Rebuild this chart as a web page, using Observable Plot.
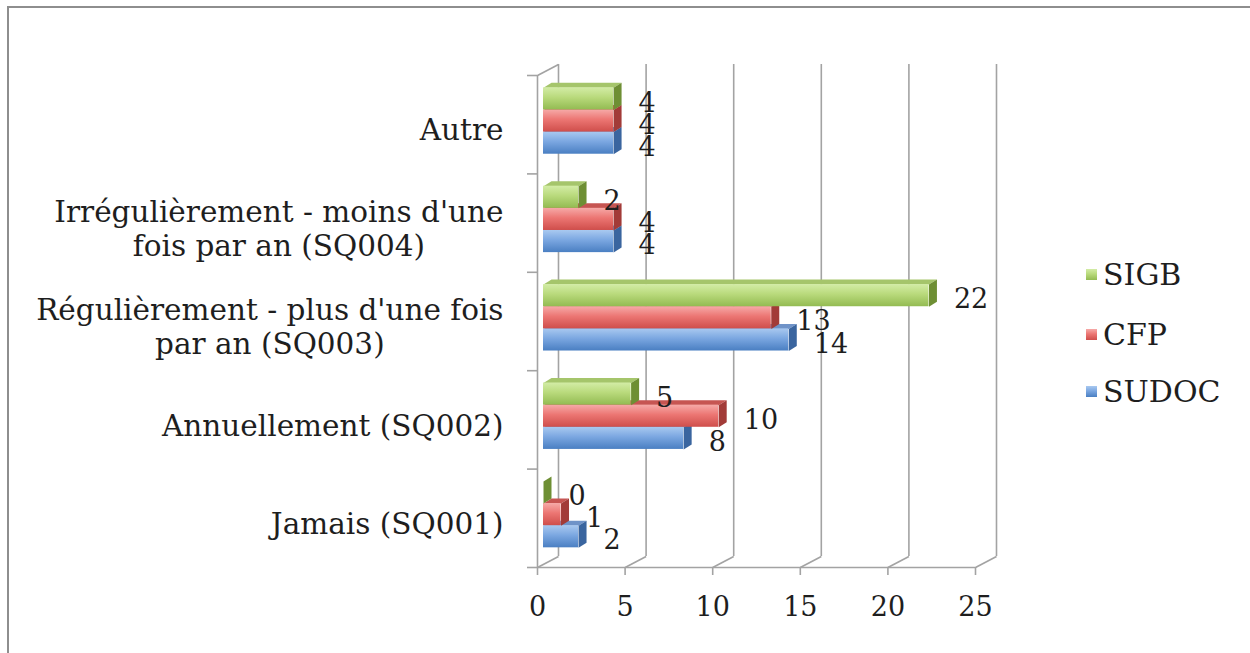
<!DOCTYPE html>
<html><head><meta charset="utf-8">
<script src="https://cdn.jsdelivr.net/npm/d3@7"></script>
<script src="https://cdn.jsdelivr.net/npm/@observablehq/plot@0.6"></script>
<style>
body{margin:0;background:#fff;}
#wrap{position:relative;width:1250px;height:653px;overflow:hidden;background:#fff;}
#frame{position:absolute;left:7px;top:6px;width:1300px;height:700px;border-left:2px solid #8e8e8e;border-top:2px solid #8e8e8e;}
#chart{position:absolute;left:0;top:0;}
.leg{position:absolute;left:1086px;height:34px;display:flex;align-items:center;font-family:"DejaVu Serif";font-size:30px;color:#1e1e1e;}
.leg .sw{width:11px;height:11px;margin-right:6px;}
</style></head>
<body>
<svg width="0" height="0" style="position:absolute">
<defs>
<linearGradient id="g-SIGB" x1="0" y1="0" x2="0" y2="1"><stop offset="0" stop-color="#d3eca6"/><stop offset="0.45" stop-color="#b9da7c"/><stop offset="1" stop-color="#93bb52"/></linearGradient>
<linearGradient id="g-CFP" x1="0" y1="0" x2="0" y2="1"><stop offset="0" stop-color="#f6aaa8"/><stop offset="0.45" stop-color="#ec7673"/><stop offset="1" stop-color="#cf4e4b"/></linearGradient>
<linearGradient id="g-SUDOC" x1="0" y1="0" x2="0" y2="1"><stop offset="0" stop-color="#a9c9f0"/><stop offset="0.45" stop-color="#7ba7e1"/><stop offset="1" stop-color="#4a7fc2"/></linearGradient>
</defs></svg>
<div id="wrap"><div id="frame"></div><div id="chart"></div></div>
<script>
// ---- data ----
const categories = ["Jamais (SQ001)", "Annuellement (SQ002)", "Régulièrement - plus d'une fois par an (SQ003)", "Irrégulièrement - moins d'une fois par an (SQ004)", "Autre"];
const categoryLines = [["Jamais (SQ001)"], ["Annuellement (SQ002)"], ["Régulièrement - plus d'une fois", "par an (SQ003)"], ["Irrégulièrement - moins d'une", "fois par an (SQ004)"], ["Autre"]];
const seriesNames = ["SUDOC", "CFP", "SIGB"];
const sudocValues = [2, 8, 14, 4, 4];
const cfpValues = [1, 10, 13, 4, 4];
const sigbValues = [0, 5, 22, 2, 4];
const xTickValues = [0, 5, 10, 15, 20, 25];
const legendOrder = ["SIGB", "CFP", "SUDOC"];

// ---- styles ----
const sideColor = {SUDOC: "#3a659f", CFP: "#a23b38", SIGB: "#6e8f34"};
const topColor = {SUDOC: "#6f93c8", CFP: "#c65552", SIGB: "#a5c56b"};
const FONT = "DejaVu Serif";
const FS = 27;        // numbers
const FS_CAT = 29.5;  // category labels
const TXT = "#1e1e1e";
const W = 1250, H = 653, mL = 537, mR = 275, mT = 75, mB = 86;
const pxX = (W - mL - mR) / 25, pxY = (H - mT - mB) / 5;
const wallX = 21 / pxX, wallY = 11 / pxY;      // wall depth in data units
const barDX = 8 / pxX, barDY = 5 / pxY;        // bar depth in data units
const rowBase = 0.2, rowH = 0.225;

const valuesBySeries = {SUDOC: sudocValues, CFP: cfpValues, SIGB: sigbValues};
const rows = [];
seriesNames.forEach((s, j) => valuesBySeries[s].forEach((v, i) => {
  const y1 = i + rowBase + j * rowH;
  rows.push({series: s, j, i, value: v, y1, y2: y1 + rowH});
}));

function polys(s) {
  const tops = [], sides = [];
  rows.filter(r => r.series === s).forEach((r, k) => {
    const v = r.value;
    [[0, r.y2], [barDX, r.y2 + barDY], [v + barDX, r.y2 + barDY], [v, r.y2]].forEach(([x, y]) => tops.push({id: k, x, y}));
    [[v, r.y1], [v, r.y2], [v + barDX, r.y2 + barDY], [v + barDX, r.y1 + barDY]].forEach(([x, y]) => sides.push({id: k, x, y}));
  });
  return {tops, sides};
}

const ctx = document.createElement("canvas").getContext("2d");
ctx.font = `${FS_CAT}px "${FONT}"`;
const textW = t => ctx.measureText(t).width;

const gridColor = "#a3a3a3";
const marks = [
  // back wall grid lines
  Plot.ruleX(xTickValues, {x: d => d + wallX, y1: wallY, y2: 5 + wallY, stroke: gridColor, strokeWidth: 1.6}),
  // floor diagonals
  Plot.link(xTickValues, {x1: d => d, y1: 0, x2: d => d + wallX, y2: wallY, stroke: gridColor, strokeWidth: 1.6}),
  // front floor line & left wall
  Plot.ruleY([0], {x1: 0, x2: 25, stroke: gridColor, strokeWidth: 1.6}),
  Plot.ruleX([0], {y1: 0, y2: 5, stroke: gridColor, strokeWidth: 1.6}),
  Plot.link([5], {x1: 0, y1: d => d, x2: wallX, y2: d => d + wallY, stroke: gridColor, strokeWidth: 1.6}),
  // ticks
  Plot.ruleY([0, 1, 2, 3, 4, 5], {x1: -10 / pxX, x2: 0, stroke: gridColor, strokeWidth: 1.6}),
  Plot.ruleX(xTickValues, {y1: -8 / pxY, y2: 0, stroke: gridColor, strokeWidth: 1.6}),
  Plot.text(xTickValues, {x: d => d, y: 0, text: d => String(d), dy: 40, fontSize: FS, fill: TXT})
];
seriesNames.forEach(s => {
  const {tops, sides} = polys(s);
  marks.push(
    Plot.line(tops, {x: "x", y: "y", z: "id", fill: topColor[s], stroke: "none", curve: "linear", dx: 6}),
    Plot.line(sides, {x: "x", y: "y", z: "id", fill: sideColor[s], stroke: "none", curve: "linear", dx: 6}),
    Plot.rect(rows.filter(r => r.series === s), {x1: () => 0, x2: "value", y1: "y1", y2: "y2", fill: `url(#g-${s})`, dx: 6})
  );
});
marks.push(Plot.text(rows, {x: "value", y: d => (d.y1 + d.y2) / 2, text: d => String(d.value), textAnchor: "start", dx: 31, dy: 4, fontSize: FS, fill: TXT}));
categoryLines.forEach((lines, i) => {
  const w = Math.max(...lines.map(textW));
  marks.push(Plot.text([lines.join("\n")], {x: () => 0, y: () => i + 0.45, text: d => d, textAnchor: "middle", lineHeight: 1.15, dx: -(34 + w / 2), fontSize: FS_CAT, fill: TXT}));
});

const chart = Plot.plot({
  width: W, height: H,
  marginLeft: mL, marginRight: mR, marginTop: mT, marginBottom: mB,
  x: {domain: [0, 25], axis: null},
  y: {domain: [0, 5], axis: null},
  style: {fontFamily: FONT, fontSize: FS + "px", background: "transparent", overflow: "visible"},
  marks
});
document.getElementById("chart").appendChild(chart);

// legend
const legendCenters = [274, 334, 391];
legendOrder.forEach((s, k) => {
  const d = document.createElement("div");
  d.className = "leg";
  d.style.top = (legendCenters[k] - 17) + "px";
  d.innerHTML = `<svg class="sw" width="11" height="11"><rect width="11" height="11" fill="url(#g-${s})"/></svg><span>${s}</span>`;
  document.getElementById("wrap").appendChild(d);
});
</script>
</body></html>
